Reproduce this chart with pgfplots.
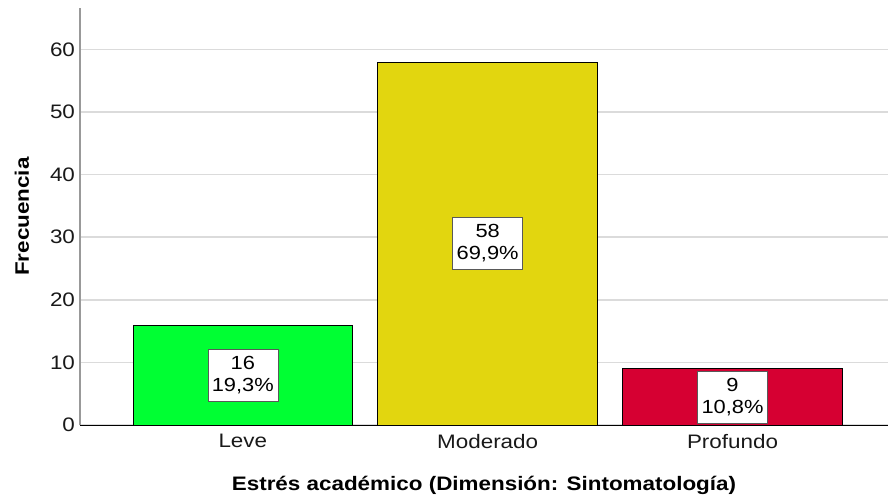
\documentclass[border=0pt]{standalone}
\usepackage{fontspec}
\setmainfont{Liberation Sans}[FakeStretch=1.15]
\usepackage{pgfplots}
\pgfplotsset{compat=1.18}
\definecolor{cgreen}{RGB}{0,255,51}
\definecolor{cyellow}{RGB}{226,214,15}
\definecolor{cred}{RGB}{214,0,50}
\begin{document}
\begin{tikzpicture}
\path[use as bounding box] (-80pt,-73.5pt) rectangle (808pt,425pt);
\begin{axis}[
  at={(0,0)}, anchor=south west,
  scale only axis, width=808pt, height=417pt,
  xmin=-0.665, xmax=2.635, ymin=0, ymax=66.6,
  axis x line*=bottom, axis y line*=left,
  x axis line style={-, black, line width=0.9pt},
  y axis line style={-, gray!80, line width=1.3pt},
  xtick={0,1,2}, xticklabels={Leve,Moderado,Profundo},
  ytick={0,10,20,30,40,50,60},
  major tick length=0pt,
  ymajorgrids, grid style={line width=1.5pt, color=gray!28},
  tick label style={font=\fontsize{19.5}{22}\selectfont, text=black!90},
  xticklabel style={yshift=-6pt},
  yticklabel style={xshift=-1.5pt},
  /pgf/number format/assume math mode=true,
  xlabel={Estrés académico (Dimensión: Sintomatología)},
  ylabel={Frecuencia},
  label style={font=\bfseries\fontsize{19.5}{22}\selectfont},
  xlabel style={at={(axis description cs:0.5,-0.1439)}, anchor=center},
  ylabel style={at={(axis description cs:-0.0718,0.5)}, anchor=center},
  clip=false,
]
\addplot[ybar, bar width=0.898, bar shift=0pt, fill=cgreen, draw=black, line width=0.6pt] coordinates {(0,16)};
\addplot[ybar, bar width=0.898, bar shift=0pt, fill=cyellow, draw=black, line width=0.6pt] coordinates {(1,58)};
\addplot[ybar, bar width=0.898, bar shift=0pt, fill=cred, draw=black, line width=0.6pt] coordinates {(2,9)};
\addplot[draw=none, mark=none, nodes near coords, point meta=explicit symbolic,
  every node near coord/.style={anchor=center, fill=white, draw=gray!70!black, line width=0.6pt,
    align=center, minimum width=70pt, minimum height=52pt, inner sep=1pt,
    font=\fontsize{19}{22}\selectfont, text=black}]
  coordinates {(0,8) [{16\\19,3\%}] (1,29) [{58\\69,9\%}] (2,4.5) [{9\\10,8\%}]};
\end{axis}
\end{tikzpicture}
\end{document}
